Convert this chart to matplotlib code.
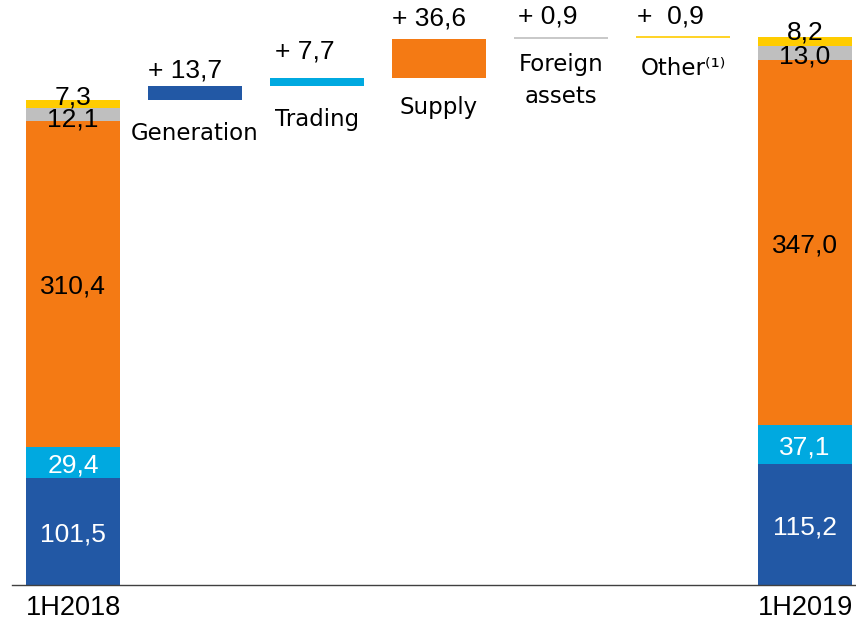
import matplotlib
matplotlib.use("Agg")
import matplotlib.pyplot as plt

plt.rcParams['font.family'] = ['Liberation Sans', 'DejaVu Sans']

# Data
segments = ["Generation", "Trading", "Supply", "Foreign assets", "Other"]
start_vals = [101.5, 29.4, 310.4, 12.1, 7.3]
end_vals = [115.2, 37.1, 347.0, 13.0, 8.2]
deltas = [13.7, 7.7, 36.6, 0.9, 0.9]
delta_labels = ["+ 13,7", "+ 7,7", "+ 36,6", "+ 0,9", "+  0,9"]
step_names = [["Generation"], ["Trading"], ["Supply"], ["Foreign", "assets"], ["Other\u207d\u00b9\u207e"]]
start_labels = ["101,5", "29,4", "310,4", "12,1", "7,3"]
end_labels = ["115,2", "37,1", "347,0", "13,0", "8,2"]
tick_labels = ["1H2018", "1H2019"]

colors = ["#2258A5", "#00A9E0", "#F47A14", "#BFBFBF", "#FFCC00"]
text_colors = ["white", "white", "black", "black", "black"]

NUM_FS = 19
CAT_FS = 16.5
CAT_FONT = ['DejaVu Sans']

W, H = 856, 623
fig = plt.figure(figsize=(W / 100, H / 100), dpi=100)
ax = fig.add_axes([12 / W, (H - 585) / H, (W - 12) / W, 585 / H])
ax.set_xlim(-0.5, -0.5 + (W - 12) / 122)
ax.set_ylim(0, 556)
bw = 94 / 122

# label offsets in pixels for small segments
start_off = [-3, -3, -3, -5, 7]
end_off = [-3, -3, -3, -4, 9]

def stack(x, vals, labels, offs):
    bottom = 0
    for v, c, tc, lab, off in zip(vals, colors, text_colors, labels, offs):
        ax.bar(x, v, bw, bottom=bottom, color=c, linewidth=0)
        ax.annotate(lab, (x, bottom + v / 2), xytext=(0, off), textcoords="offset pixels",
                    ha="center", va="center", color=tc, fontsize=NUM_FS)
        bottom += v

stack(0, start_vals, start_labels, start_off)
stack(6, end_vals, end_labels, end_off)

# floating bars
above = [15, 26, 21, 22, 21]
left_pad = [0, 5, 0, 4, 1]
below = [[33], [34], [30], [25, 57], [30]]
cum = sum(start_vals)
for i, (d, c) in enumerate(zip(deltas, colors)):
    x = i + 1
    if d >= 2:
        ax.bar(x, d, bw, bottom=cum, color=c, linewidth=0)
    else:
        ax.plot([x - bw / 2, x + bw / 2], [cum + d, cum + d], color=c, lw=1.2,
                solid_capstyle="butt")
    top = cum + d
    ax.annotate(delta_labels[i], (x - bw / 2, top), xytext=(left_pad[i], above[i]),
                textcoords="offset pixels", ha="left", va="center", fontsize=NUM_FS)
    for line, off in zip(step_names[i], below[i]):
        ax.annotate(line, (x, cum), xytext=(0, -off), textcoords="offset pixels",
                    ha="center", va="center", fontsize=CAT_FS, family=CAT_FONT)
    cum += d

for s in ["top", "right", "left"]:
    ax.spines[s].set_visible(False)
ax.spines["bottom"].set_color("#404040")
ax.spines["bottom"].set_linewidth(1)
ax.set_yticks([])
ax.set_xticks([0, 6])
ax.set_xticklabels(tick_labels, fontsize=19.5)
ax.tick_params(axis="x", length=0, pad=7)

fig.savefig("out.png", dpi=100)
